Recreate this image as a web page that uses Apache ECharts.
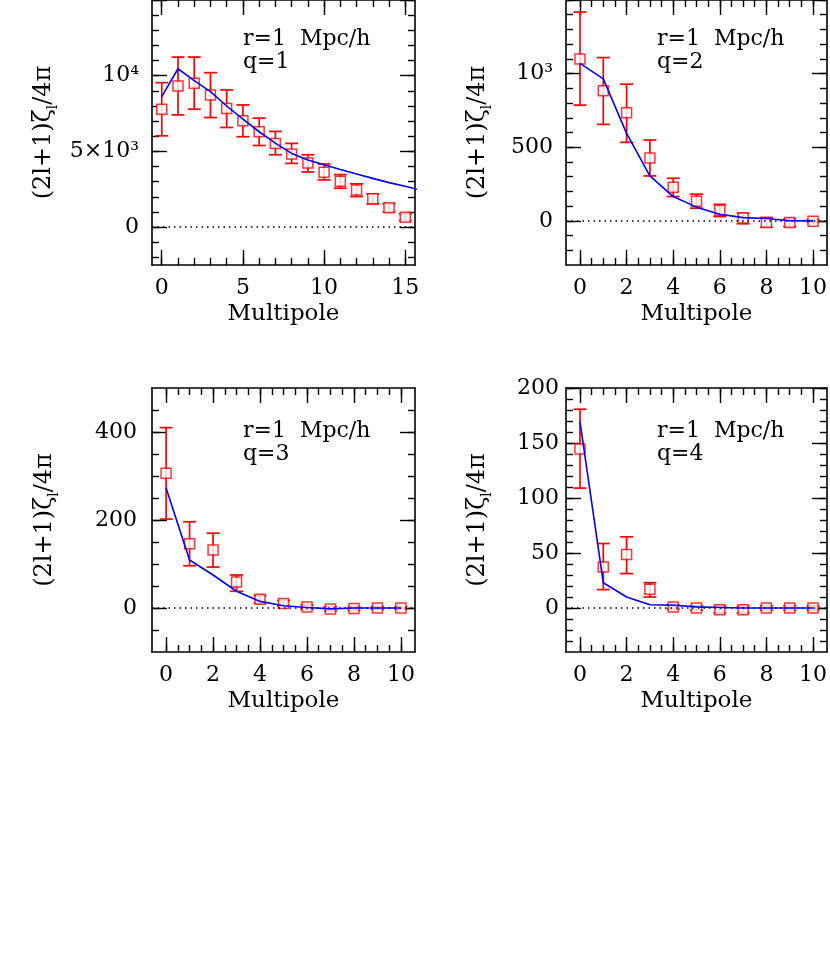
<!DOCTYPE html>
<html lang="en">
<head>
  <meta charset="UTF-8">
  <title>Multipoles r=1 Mpc/h</title>
  <script src="https://cdn.jsdelivr.net/npm/echarts@6.0.0/dist/echarts.min.js"></script>
  <style>
    html, body { margin: 0; padding: 0; background: #fff; }
    #chart { width: 830px; height: 959px; }
  </style>
</head>
<body>
  <div id="chart"></div>
  <script>
    // multipole index l
    const ell15 = [0, 1, 2, 3, 4, 5, 6, 7, 8, 9, 10, 11, 12, 13, 14, 15]
    const ell16 = [0, 1, 2, 3, 4, 5, 6, 7, 8, 9, 10, 11, 12, 13, 14, 15, 16]
    const ell10 = [0, 1, 2, 3, 4, 5, 6, 7, 8, 9, 10]

    // q=1
    const q1Obs = [7790, 9320, 9500, 8730, 7830, 7020, 6300, 5530, 4830, 4240, 3620, 3030, 2460, 1870, 1280, 660]
    const q1Lo = [6030, 7410, 7790, 7240, 6580, 5970, 5390, 4780, 4210, 3640, 3120, 2570, 2020, 1540, 1010, 440]
    const q1Hi = [9540, 11230, 11230, 10200, 9060, 8070, 7200, 6320, 5530, 4780, 4170, 3470, 2860, 2200, 1540, 880]
    const q1Model = [8620, 10460, 9680, 8950, 8000, 7130, 6300, 5550, 4870, 4430, 4120, 3800, 3510, 3220, 2940, 2700, 2430]

    // q=2
    const q2Obs = [1100, 883, 734, 427, 228, 133, 72, 20, -11, -11, -2]
    const q2Lo = [786, 655, 533, 305, 165, 86, 29, -20, -43, -39, -10]
    const q2Hi = [1418, 1109, 928, 549, 289, 181, 112, 52, 22, 13, 8]
    const q2Model = [1069, 964, 594, 305, 165, 93, 45, 22, 16, 1, 0]

    // q=3
    const q3Obs = [306, 146, 132, 59, 20, 10, 2, -2, -1, 0, 0]
    const q3Lo = [202, 96, 93, 38, 11, 4, -3, -7, -5, -3, -3]
    const q3Hi = [410, 196, 170, 75, 28, 17, 7, 3, 3, 3, 3]
    const q3Model = [273, 109, 75, 38, 15, 5, 1, -2, 0, 0, 0]

    // q=4
    const q4Obs = [144.5, 37.3, 48.6, 17, 1, 0, -1.5, -1.5, 0, 0, 0]
    const q4Lo = [109, 16.7, 31.3, 10, -1, -2, -4.5, -4.5, -2, -2, -2]
    const q4Hi = [180.7, 58.6, 64.7, 23, 3, 2, 1.5, 1.5, 2, 2, 2]
    const q4Model = [169.4, 23, 10, 3, 2.5, 1, 0.5, 0, 0, 0, 0]

    // major ticks and their labels
    const xMajor15 = [0, 5, 10, 15]
    const xMajor10 = [0, 2, 4, 6, 8, 10]
    const xLabels15 = { 0: '0', 5: '5', 10: '10', 15: '15' }
    const xLabels10 = { 0: '0', 2: '2', 4: '4', 6: '6', 8: '8', 10: '10' }
    const yMajor1 = [0, 5000, 10000, 15000]
    const yMajor2 = [0, 500, 1000, 1500]
    const yMajor3 = [0, 200, 400]
    const yMajor4 = [0, 50, 100, 150, 200]
    const yLabels1 = { 0: '0', 5000: '5×10³', 10000: '10⁴' }
    const yLabels2 = { 0: '0', 500: '500', 1000: '10³' }
    const yLabels3 = { 0: '0', 200: '200', 400: '400' }
    const yLabels4 = { 0: '0', 50: '50', 100: '100', 150: '150', 200: '200' }

    // minor tick positions
    function steps(a, b, d) {
      const out = []
      for (let v = a; v <= b + d / 1000; v += d) out.push(Math.round(v * 1000) / 1000)
      return out
    }

    const FONT = 'DejaVu Serif'
    const RED = '#ff0000'
    const BLUE = '#0000ff'

    const panels = [
      { ell: ell15, lineEll: ell16, obs: q1Obs, lo: q1Lo, hi: q1Hi, model: q1Model,
        x: { min: -0.6, max: 15.6, major: xMajor15, minor: steps(0, 15, 1), labels: xLabels15 },
        y: { min: -2500, max: 15000, major: yMajor1, minor: steps(-2000, 15000, 1000), labels: yLabels1 },
        grid: { left: 152, right: 415, top: -1, bottom: 694 }, nameGap: 92, yMargin: 13, note: 'q=1' },
      { ell: ell10, lineEll: ell10, obs: q2Obs, lo: q2Lo, hi: q2Hi, model: q2Model,
        x: { min: -0.6, max: 10.6, major: xMajor10, minor: steps(0, 10, 0.5), labels: xLabels10 },
        y: { min: -300, max: 1500, major: yMajor2, minor: steps(-200, 1500, 100), labels: yLabels2 },
        grid: { left: 566, right: 1, top: -1, bottom: 694 }, nameGap: 72, yMargin: 13, note: 'q=2' },
      { ell: ell10, lineEll: ell10, obs: q3Obs, lo: q3Lo, hi: q3Hi, model: q3Model,
        x: { min: -0.6, max: 10.6, major: xMajor10, minor: steps(0, 10, 0.5), labels: xLabels10 },
        y: { min: -100, max: 500, major: yMajor3, minor: steps(-50, 450, 50), labels: yLabels3 },
        grid: { left: 152, right: 415, top: 388, bottom: 307 }, nameGap: 91, yMargin: 15, note: 'q=3' },
      { ell: ell10, lineEll: ell10, obs: q4Obs, lo: q4Lo, hi: q4Hi, model: q4Model,
        x: { min: -0.6, max: 10.6, major: xMajor10, minor: steps(0, 10, 0.5), labels: xLabels10 },
        y: { min: -40, max: 200, major: yMajor4, minor: steps(-30, 200, 10), labels: yLabels4 },
        grid: { left: 566, right: 1, top: 388, bottom: 307 }, nameGap: 72, yMargin: 7, note: 'q=4' }
    ]

    const tickStyle = { color: '#000', width: 1.4 }
    const lineStyle = { color: '#000', width: 1.6 }

    function makeAxes(g, dim, cfg, nameGap, labelMargin) {
      const sides = dim === 'x' ? ['bottom', 'top'] : ['left', 'right']
      const base = {
        type: 'value', gridIndex: g, min: cfg.min, max: cfg.max,
        splitLine: { show: false },
        axisLine: { show: true, onZero: false, lineStyle: lineStyle }
      }
      const out = []
      sides.forEach((pos, k) => {
        const main = Object.assign({}, base, {
          position: pos,
          axisTick: { show: true, inside: true, length: 15, lineStyle: tickStyle, customValues: cfg.major },
          axisLabel: { show: false }
        })
        if (k === 0) {
          main.axisLabel = {
            show: true, color: '#000', fontSize: 22, fontFamily: FONT,
            margin: labelMargin,
            customValues: Object.keys(cfg.labels).map(Number),
            formatter: v => cfg.labels[Math.round(v * 1000) / 1000] || ''
          }
          if (dim === 'x') {
            main.name = 'Multipole'
            main.nameLocation = 'middle'
            main.nameGap = 38
            main.nameTextStyle = { color: '#000', fontSize: 23, fontFamily: FONT }
          } else {
            main.name = '(2l+1)ζ{s|l}/4π'
            main.nameLocation = 'middle'
            main.nameGap = nameGap
            main.nameTextStyle = {
              color: '#000', fontSize: 24, fontFamily: FONT, lineHeight: 32,
              rich: { s: { fontSize: 14, fontFamily: FONT, color: '#000', lineHeight: 14, verticalAlign: 'bottom' } }
            }
          }
        }
        out.push(main)
        out.push(Object.assign({}, base, {
          position: pos,
          axisLine: { show: false, onZero: false },
          axisTick: { show: true, inside: true, length: 7, lineStyle: tickStyle, customValues: cfg.minor },
          axisLabel: { show: false }
        }))
      })
      return out
    }

    const grids = []
    let xAxes = []
    let yAxes = []
    const series = []
    const graphic = []

    panels.forEach((p, g) => {
      grids.push(Object.assign({ containLabel: false }, p.grid))
      xAxes = xAxes.concat(makeAxes(g, 'x', p.x, 38, 12))
      yAxes = yAxes.concat(makeAxes(g, 'y', p.y, p.nameGap, p.yMargin))
      const xi = g * 4
      const yi = g * 4

      // error bars
      series.push({
        type: 'custom', xAxisIndex: xi, yAxisIndex: yi, z: 3, silent: true,
        data: p.ell.map((l, i) => [l, p.lo[i], p.hi[i]]),
        renderItem: function (params, api) {
          const a = api.coord([api.value(0), api.value(1)])
          const b = api.coord([api.value(0), api.value(2)])
          const w = 6.5
          const st = { stroke: RED, lineWidth: 1.7 }
          return {
            type: 'group',
            children: [
              { type: 'line', shape: { x1: a[0], y1: a[1], x2: b[0], y2: b[1] }, style: st },
              { type: 'line', shape: { x1: a[0] - w, y1: a[1], x2: a[0] + w, y2: a[1] }, style: st },
              { type: 'line', shape: { x1: b[0] - w, y1: b[1], x2: b[0] + w, y2: b[1] }, style: st }
            ]
          }
        }
      })

      // measured points
      series.push({
        type: 'scatter', xAxisIndex: xi, yAxisIndex: yi, z: 4, silent: true,
        symbol: 'rect', symbolSize: 10,
        itemStyle: { color: '#fff', borderColor: RED, borderWidth: 1.5 },
        data: p.ell.map((l, i) => [l, p.obs[i]])
      })

      // model curve + zero line
      series.push({
        type: 'line', xAxisIndex: xi, yAxisIndex: yi, z: 5, silent: true,
        showSymbol: false, symbol: 'none', clip: true,
        lineStyle: { color: BLUE, width: 1.6 },
        data: p.lineEll.map((l, i) => [l, p.model[i]]),
        markLine: {
          silent: true, symbol: ['none', 'none'], label: { show: false },
          lineStyle: { color: '#000', type: [1.5, 4], width: 1.6 },
          data: [{ yAxis: 0 }]
        }
      })

      // annotation
      const tx = p.grid.left + 91
      const ty = p.grid.top < 0 ? 39 : 431
      graphic.push({ type: 'text', x: tx, y: ty, silent: true,
        style: { text: 'r=1  Mpc/h', fill: '#000', font: '22px "DejaVu Serif"', verticalAlign: 'middle' } })
      graphic.push({ type: 'text', x: tx, y: ty + 23, silent: true,
        style: { text: p.note, fill: '#000', font: '22px "DejaVu Serif"', verticalAlign: 'middle' } })
    })

    const myChart = echarts.init(document.getElementById('chart'), null, { renderer: 'canvas' })
    myChart.setOption({
      animation: false,
      backgroundColor: '#fff',
      grid: grids,
      xAxis: xAxes,
      yAxis: yAxes,
      series: series,
      graphic: graphic
    })
  </script>
</body>
</html>
